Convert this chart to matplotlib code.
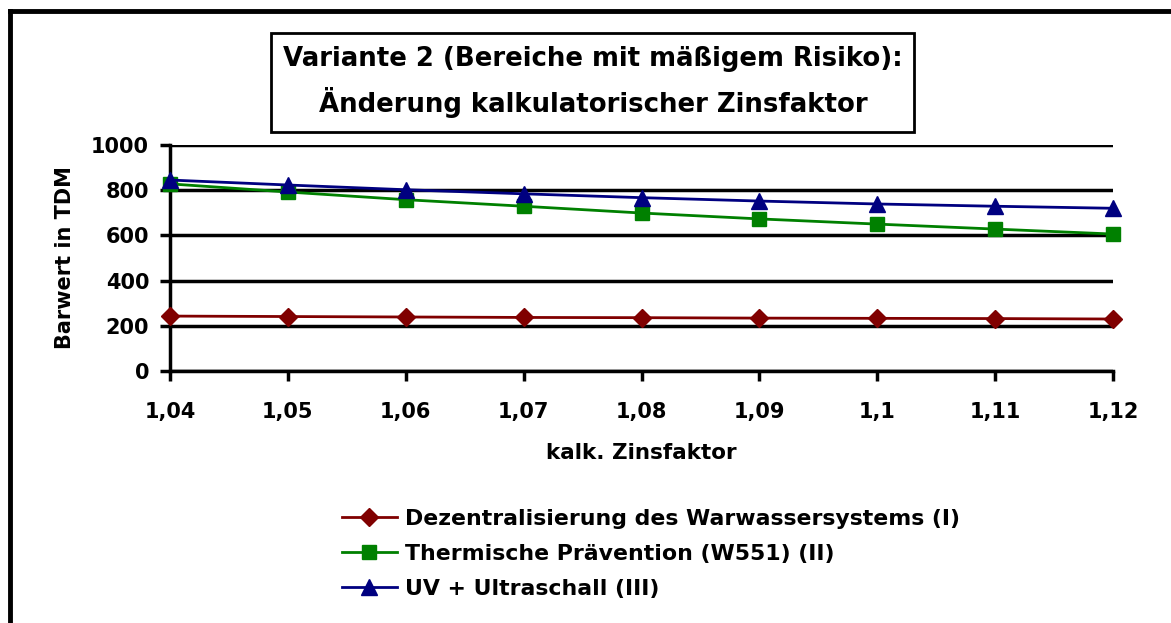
import matplotlib
matplotlib.use("Agg")
import matplotlib.pyplot as plt
from matplotlib.patches import Rectangle
from matplotlib.lines import Line2D

plt.rcParams['font.family'] = ['DejaVu Sans']
plt.rcParams['font.weight'] = 'bold'

x_labels = ["1,04", "1,05", "1,06", "1,07", "1,08", "1,09", "1,1", "1,11", "1,12"]
zins = [1.04, 1.05, 1.06, 1.07, 1.08, 1.09, 1.10, 1.11, 1.12]
dezentral = [243, 241, 239, 237, 236, 234, 233, 232, 230]
thermisch = [828, 792, 758, 729, 699, 673, 650, 628, 606]
uv_ultra = [845, 823, 802, 784, 767, 752, 739, 729, 720]
names = ["Dezentralisierung des Warwassersystems (I)",
         "Thermische Prävention (W551) (II)",
         "UV + Ultraschall (III)"]

W, H = 1171, 623
fig = plt.figure(figsize=(W / 100, H / 100), dpi=100)

def fx(px):
    return px / W

def fy(py):
    return 1 - py / H

ax = fig.add_axes([fx(170), fy(371), fx(1113) - fx(170), fy(145) - fy(371)])

ax.plot(zins, dezentral, color='#800000', lw=2, marker='D', ms=9, label=names[0], zorder=3)
ax.plot(zins, thermisch, color='#008000', lw=2, marker='s', ms=10, label=names[1], zorder=3)
ax.plot(zins, uv_ultra, color='#000080', lw=2, marker='^', ms=12, label=names[2], zorder=3)

ax.set_xlim(1.04, 1.12)
ax.set_ylim(0, 1000)
ax.set_xticks(zins)
ax.set_xticklabels(x_labels)
ax.set_yticks(range(0, 1001, 200))
for s in ['top', 'right']:
    ax.spines[s].set_visible(False)
ax.spines['left'].set_linewidth(2.5)
ax.spines['bottom'].set_linewidth(2.5)
ax.yaxis.grid(True, color='black', lw=2.5)
ax.set_axisbelow(True)
ax.tick_params(axis='both', length=7, width=2.5, labelsize=15)
ax.tick_params(axis='x', pad=15)
ax.tick_params(axis='y', pad=8)
for lab in ax.get_xticklabels() + ax.get_yticklabels():
    lab.set_fontweight('bold')
for line in ax.lines:
    line.set_clip_on(False)

fig.text(fx(641), fy(453), "kalk. Zinsfaktor", ha='center', va='center', fontsize=15.5, fontweight='bold')
fig.text(fx(65), fy(258), "Barwert in TDM", ha='center', va='center', rotation=90, fontsize=15, fontweight='bold')

# Title box
fig.add_artist(Rectangle((fx(271), fy(132)), fx(914) - fx(271), fy(33) - fy(132),
                         transform=fig.transFigure, facecolor='white', edgecolor='black', lw=2))
fig.text(fx(593), fy(59), "Variante 2 (Bereiche mit mäßigem Risiko):",
         ha='center', va='center', fontsize=18.7, fontweight='bold')
fig.text(fx(593), fy(103), "Änderung kalkulatorischer Zinsfaktor",
         ha='center', va='center', fontsize=18.7, fontweight='bold')

# Outer border (top and left visible)
fig.add_artist(Line2D([fx(10), fx(1171)], [fy(11), fy(11)], color='black', lw=3.5, transform=fig.transFigure))
fig.add_artist(Line2D([fx(10), fx(10)], [fy(11), fy(623)], color='black', lw=3.5, transform=fig.transFigure))

fig.legend(loc='upper left', bbox_to_anchor=(fx(322), fy(489)), frameon=False,
           prop={'size': 15.8, 'weight': 'bold'}, handlelength=2.5, labelspacing=0.68,
           handletextpad=0.4)

fig.savefig("out.png", dpi=100)
